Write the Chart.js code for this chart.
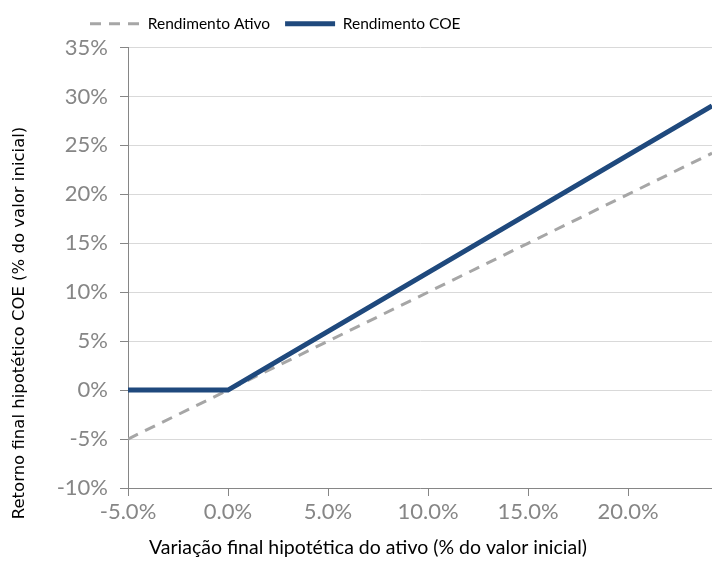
<!DOCTYPE html>
<html>
<head>
<meta charset="utf-8">
<script src="https://cdn.jsdelivr.net/npm/chart.js@4"></script>
<style>
  html, body { margin: 0; padding: 0; background: #fff; }
  #wrap { width: 712px; height: 566px; }
</style>
</head>
<body>
<div id="wrap"><canvas id="lineChart"></canvas></div>
<script>
// --- dados ---
const variacaoAtivo = [-5, 0, 5, 10, 15, 20, 24.2];
const rendAtivo = [-5, 0, 5, 10, 15, 20, 24.2];
const rendCOE = [0, 0, 6, 12, 18, 24, 29.04];
const xTicks = [-5, 0, 5, 10, 15, 20];
const yTicks = [-10, -5, 0, 5, 10, 15, 20, 25, 30, 35];
const legendNames = ['Rendimento Ativo', 'Rendimento COE'];
const xTitle = 'Variação final hipotética do ativo (% do valor inicial)';
const yTitle = 'Retorno final hipotético COE (% do valor inicial)';

const tickFont = { family: 'Lato', size: 22 };
const gray = '#868686';

// títulos dos eixos desenhados à mão (posição igual ao original)
const axisTitles = {
    id: 'axisTitles',
    afterLayout(chart) {
        chart.legend.left = 90 - chart.legend.options.labels.padding;
        chart.legend.top -= 6;
    },
    afterDraw(chart) {
        const c = chart.ctx;
        c.save();
        c.fillStyle = '#000';
        c.textAlign = 'center';
        c.textBaseline = 'middle';
        c.font = '19.5px Lato';
        c.fillText(xTitle, 368, 548);
        c.translate(20, 323);
        c.rotate(-Math.PI / 2);
        c.font = '16.5px "DejaVu Sans"';
        c.fillText(yTitle, 0, 0);
        c.restore();
    }
};

const ctx = document.getElementById('lineChart').getContext('2d');
const chart = new Chart(ctx, {
    type: 'line',
    data: {
        datasets: [{
            label: legendNames[0],
            data: variacaoAtivo.map((x, i) => ({ x: x, y: rendAtivo[i] })),
            borderColor: '#a6a6a6',
            backgroundColor: '#a6a6a6',
            borderWidth: 3,
            borderDash: [11, 8],
            pointRadius: 0,
            order: 2
        }, {
            label: legendNames[1],
            data: variacaoAtivo.map((x, i) => ({ x: x, y: rendCOE[i] })),
            borderColor: '#1f497d',
            backgroundColor: '#1f497d',
            borderWidth: 5,
            pointRadius: 0,
            order: 1
        }]
    },
    options: {
        responsive: true,
        maintainAspectRatio: false,
        animation: false,
        layout: { padding: { top: 7, right: 0, bottom: 0, left: 0 } },
        scales: {
            x: {
                type: 'linear',
                min: -5,
                max: 24.2,
                afterBuildTicks: s => { s.ticks = xTicks.map(v => ({ value: v })); },
                afterFit: s => { s.height = 78; },
                ticks: {
                    font: tickFont,
                    color: gray,
                    padding: 3,
                    maxRotation: 0,
                    callback: v => v.toFixed(1) + '%'
                },
                grid: { drawOnChartArea: false, tickLength: 8, tickColor: gray },
                border: { color: gray, width: 1 }
            },
            y: {
                min: -10,
                max: 35,
                afterBuildTicks: s => { s.ticks = yTicks.map(v => ({ value: v })); },
                afterFit: s => { s.width = 128; },
                ticks: {
                    font: tickFont,
                    color: gray,
                    padding: 12,
                    callback: v => v + '%'
                },
                grid: { color: '#d9d9d9', tickLength: 8, tickColor: gray },
                border: { color: gray, width: 1 }
            }
        },
        plugins: {
            legend: {
                display: true,
                position: 'top',
                align: 'start',
                labels: {
                    usePointStyle: true,
                    pointStyle: 'line',
                    pointStyleWidth: 50,
                    padding: 15,
                    color: '#000',
                    font: { family: 'Lato', size: 15.5 },
                    generateLabels: ch => ch.data.datasets.map((ds, i) => ({
                        text: ds.label,
                        datasetIndex: i,
                        strokeStyle: ds.borderColor,
                        fillStyle: ds.borderColor,
                        lineWidth: ds.borderWidth,
                        lineDash: ds.borderDash || [],
                        lineCap: 'butt',
                        pointStyle: 'line',
                        fontColor: '#000',
                        hidden: false
                    }))
                }
            },
            tooltip: { enabled: false }
        }
    },
    plugins: [axisTitles]
});
</script>
</body>
</html>
